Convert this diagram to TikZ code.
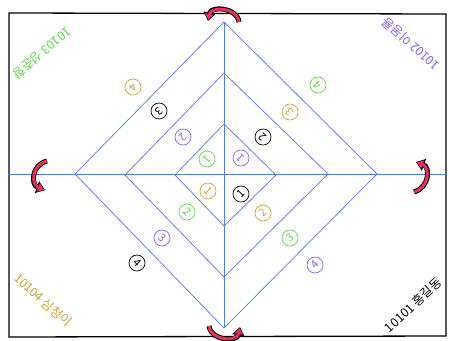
\documentclass[tikz,border=0pt]{standalone}
\usepackage{fontspec}
\setmainfont{Noto Sans CJK KR}
\usetikzlibrary{arrows.meta}
\definecolor{lblue}{RGB}{85,125,225}
\definecolor{cgreen}{RGB}{95,215,75}
\definecolor{cpurple}{RGB}{140,95,225}
\definecolor{corange}{RGB}{205,160,55}
\definecolor{cred}{RGB}{228,50,95}
\begin{document}
\begin{tikzpicture}[x=1pt,y=-1pt,
  fold/.style={draw=lblue,line width=0.75pt,line join=round},
  num/.style={circle,draw,line width=0.7pt,inner sep=0pt,minimum size=16pt,font=\fontsize{11}{11}\selectfont},
  corner/.style={font=\fontsize{12.5}{12.5}\selectfont,inner sep=0pt},
  arrowout/.style={draw=black,line width=5pt,-{Triangle[length=8.5pt,width=12pt]}},
  arrowin/.style={draw=cred,line width=3pt,shorten >=1.2pt,-{Triangle[length=6pt,width=8.4pt]}}
]
\useasboundingbox (0,0) rectangle (449,340);
% frame
\draw[line width=1.3pt] (9,13) -- (446,14) -- (446,336) -- (9,337) -- cycle;
% fold lines
\coordinate (C) at (224,174);
\coordinate (L) at (9,174);
\coordinate (R) at (446,174);
\coordinate (T) at (224,22);
\coordinate (B) at (224,328);
\coordinate (o1) at (224,22);  \coordinate (o2) at (75,174);  \coordinate (o3) at (224,328); \coordinate (o4) at (377,174);
\coordinate (m1) at (224,73);  \coordinate (m2) at (125,175); \coordinate (m3) at (224,277); \coordinate (m4) at (328,174);
\coordinate (i1) at (224,124); \coordinate (i2) at (175,175); \coordinate (i3) at (224,226); \coordinate (i4) at (276,175);
\path[fold] (L) -- (R);
\path[fold] (T) -- (B);
\path[fold] (o1) -- (o2) -- (o3) -- (o4) -- cycle;
\path[fold] (m1) -- (m2) -- (m3) -- (m4) -- cycle;
\path[fold] (i1) -- (i2) -- (i3) -- (i4) -- cycle;
% numbers top-left
\node[num,cgreen,rotate=225]   (tl1) at (207,159) {1};
\node[num,cpurple,rotate=225]  (tl2) at (183,137) {2};
\node[num,black,rotate=225]    (tl3) at (159,111) {3};
\node[num,corange,rotate=225]  (tl4) at (133,87)  {4};
% top-right
\node[num,cpurple,rotate=135]  (tr1) at (241,158) {1};
\node[num,black,rotate=135]    (tr2) at (263,137) {2};
\node[num,corange,rotate=135]  (tr3) at (290,112) {3};
\node[num,cgreen,rotate=135]   (tr4) at (318,85)  {4};
% bottom-left
\node[num,corange,rotate=-45]  (bl1) at (208,191) {1};
\node[num,cgreen,rotate=-45]   (bl2) at (187,212) {2};
\node[num,cpurple,rotate=-45]  (bl3) at (162,238) {3};
\node[num,black,rotate=-45]    (bl4) at (137,263) {4};
% bottom-right
\node[num,black,rotate=45]     (br1) at (241,194) {1};
\node[num,corange,rotate=45]   (br2) at (263,213) {2};
\node[num,cgreen,rotate=45]    (br3) at (290,238) {3};
\node[num,cpurple,rotate=45]   (br4) at (315,265) {4};
% corner labels
\node[corner,cgreen,rotate=220]  (ctl) at (42,53)  {10103 성춘향};
\node[corner,cpurple,rotate=138] (ctr) at (411,44) {10102 이몽룡};
\node[corner,corange,rotate=-42] (cbl) at (43,300) {10104 심청이};
\node[corner,black,rotate=43]    (cbr) at (413,305) {10101 홍길동};
% red rotation arrows
\coordinate (a1s) at (239,22); \coordinate (a1e) at (208,21);
\draw[arrowout] (a1s) .. controls (237,7) and (211,6) .. (a1e);
\draw[arrowin]  (a1s) .. controls (237,7) and (211,6) .. (a1e);
\coordinate (a2s) at (47,161); \coordinate (a2e) at (45,190);
\draw[arrowout] (a2s) .. controls (31,165) and (31,185) .. (a2e);
\draw[arrowin]  (a2s) .. controls (31,165) and (31,185) .. (a2e);
\coordinate (a3s) at (414,192); \coordinate (a3e) at (416,162);
\draw[arrowout] (a3s) .. controls (430,187) and (430,167) .. (a3e);
\draw[arrowin]  (a3s) .. controls (430,187) and (430,167) .. (a3e);
\coordinate (a4s) at (209,326); \coordinate (a4e) at (240,327);
\draw[arrowout] (a4s) .. controls (211,341) and (237,342) .. (a4e);
\draw[arrowin]  (a4s) .. controls (211,341) and (237,342) .. (a4e);
\end{tikzpicture}
\end{document}
